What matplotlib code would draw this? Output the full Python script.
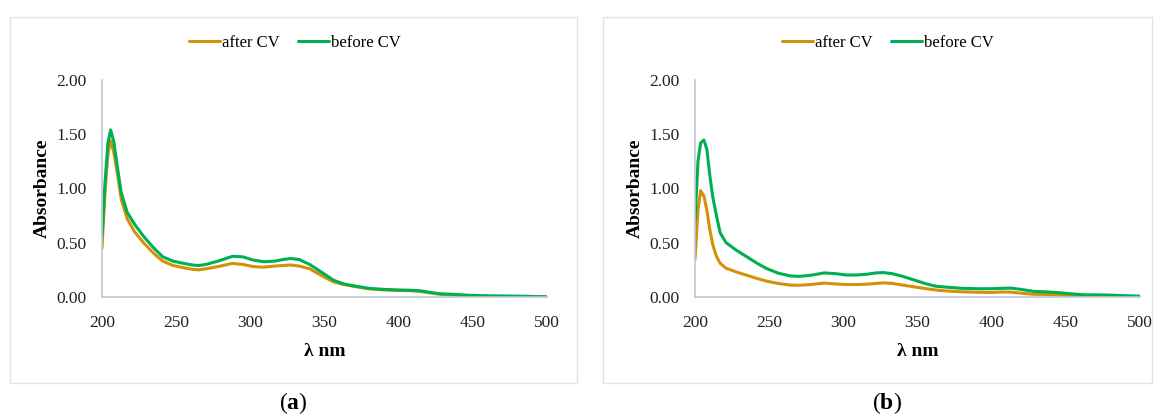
import matplotlib
matplotlib.use("Agg")
import matplotlib.pyplot as plt
from matplotlib.patches import Rectangle

plt.rcParams['font.family'] = ['Liberation Serif', 'DejaVu Serif']
plt.rcParams['mathtext.fontset'] = 'custom'
plt.rcParams['mathtext.rm'] = 'Liberation Serif'
plt.rcParams['mathtext.bf'] = 'Liberation Serif:bold'

# ---- data ----
wl_a = [200, 202, 204, 205.8, 208, 210, 213, 217, 222, 228, 235, 241, 248, 255, 261, 265,
        270, 278, 288, 295, 302, 309, 316, 322, 327, 333, 340, 349, 356, 363, 371, 380,
        390, 400, 408, 414, 420, 428, 436, 445, 455, 465, 475, 485, 492, 500]
after_a = [0.45, 0.95, 1.32, 1.44, 1.33, 1.17, 0.90, 0.72, 0.60, 0.50, 0.40, 0.33, 0.29, 0.27, 0.255, 0.25,
           0.26, 0.28, 0.31, 0.30, 0.28, 0.275, 0.285, 0.29, 0.295, 0.285, 0.26, 0.19, 0.14, 0.115, 0.095, 0.075,
           0.065, 0.06, 0.058, 0.052, 0.04, 0.025, 0.018, 0.012, 0.008, 0.005, 0.004, 0.003, 0.002, 0.001]
before_a = [0.55, 1.05, 1.42, 1.54, 1.43, 1.23, 0.96, 0.78, 0.67, 0.56, 0.45, 0.37, 0.33, 0.31, 0.295, 0.29,
            0.30, 0.33, 0.375, 0.37, 0.34, 0.325, 0.33, 0.345, 0.355, 0.345, 0.30, 0.22, 0.155, 0.12, 0.10, 0.08,
            0.07, 0.065, 0.062, 0.058, 0.045, 0.03, 0.025, 0.018, 0.012, 0.01, 0.009, 0.007, 0.004, 0.002]

wl_b = [200, 202, 203.8, 206, 208, 210, 212, 214.6, 217, 221, 228, 235, 242, 248, 256, 264,
        270, 278, 287, 295, 302, 309, 316, 322, 327, 333, 340, 347, 355, 362, 370, 380,
        392, 400, 407, 413, 420, 428, 436, 445, 453, 462, 472, 482, 490, 500]
after_b = [0.35, 0.80, 0.98, 0.93, 0.80, 0.62, 0.48, 0.37, 0.31, 0.265, 0.23, 0.20, 0.17, 0.147, 0.125, 0.11,
           0.108, 0.115, 0.128, 0.12, 0.115, 0.115, 0.118, 0.125, 0.13, 0.125, 0.11, 0.095, 0.078, 0.065, 0.055, 0.048,
           0.043, 0.042, 0.046, 0.045, 0.035, 0.025, 0.024, 0.018, 0.012, 0.008, 0.006, 0.004, 0.003, 0.002]
before_b = [0.70, 1.25, 1.42, 1.447, 1.36, 1.12, 0.92, 0.74, 0.59, 0.50, 0.43, 0.37, 0.31, 0.264, 0.22, 0.195,
            0.19, 0.20, 0.222, 0.215, 0.203, 0.203, 0.21, 0.222, 0.225, 0.215, 0.19, 0.16, 0.125, 0.10, 0.09, 0.08,
            0.076, 0.077, 0.08, 0.082, 0.07, 0.052, 0.048, 0.04, 0.03, 0.02, 0.02, 0.016, 0.012, 0.008]

xticks = [200, 250, 300, 350, 400, 450, 500]
yticks = [0.0, 0.5, 1.0, 1.5, 2.0]
series_labels = ["after CV", "before CV"]
panel_labels = ["a", "b"]

c_after = '#D39107'
c_before = '#00B050'
spine_c = '#BCC8D8'

W, H = 1155, 417
fig = plt.figure(figsize=(W / 100, H / 100), dpi=100)

def fx(px):
    return px / W

def fy(py):
    return 1 - py / H

panels = [
    dict(box=(10, 17, 577, 383), ax=(102, 80, 547, 297), leg=(295, 43), lab=(293, 403),
         x=wl_a, a=after_a, b=before_a),
    dict(box=(603, 17, 1152, 383), ax=(695, 80, 1140, 297), leg=(888, 43), lab=(887, 403),
         x=wl_b, a=after_b, b=before_b),
]

for i, p in enumerate(panels):
    x0, y0, x1, y1 = p['box']
    fig.patches.append(Rectangle((fx(x0), fy(y1)), fx(x1 - x0), (y1 - y0) / H,
                                 transform=fig.transFigure, fill=False,
                                 edgecolor='#DCE3EA', lw=1.0))
    l, t, r, b = p['ax']
    ax = fig.add_axes([fx(l), fy(b), fx(r - l), (b - t) / H])
    ax.plot(p['x'], p['a'], color=c_after, lw=2.2, label=series_labels[0], solid_capstyle='round')
    ax.plot(p['x'], p['b'], color=c_before, lw=2.2, label=series_labels[1], solid_capstyle='round')
    ax.set_xlim(200, 500)
    ax.set_ylim(0, 2.0)
    ax.set_xticks(xticks)
    ax.set_yticks(yticks)
    ax.set_yticklabels([f"{v:.2f}" for v in yticks])
    ax.tick_params(axis='both', length=0, labelsize=12.5, colors='#222222')
    ax.tick_params(axis='x', pad=13)
    ax.tick_params(axis='y', pad=11)
    for s in ['top', 'right']:
        ax.spines[s].set_visible(False)
    for s in ['left', 'bottom']:
        ax.spines[s].set_color(spine_c)
        ax.spines[s].set_linewidth(1.2)
    ax.set_facecolor('none')
    ax.set_xlabel('λ nm', fontsize=14, fontweight='bold')
    ax.set_ylabel('Absorbance', fontsize=14, fontweight='bold')
    ax.xaxis.set_label_coords(0.5, -(352 - b) / (b - t), transform=ax.transAxes)
    ax.yaxis.set_label_coords(-60 / (r - l), 0.5, transform=ax.transAxes)
    ax.xaxis.label.set_va('center')
    ax.yaxis.label.set_va('center')
    ax.legend(loc='center', bbox_to_anchor=(fx(p['leg'][0]), fy(p['leg'][1])),
              bbox_transform=fig.transFigure, ncol=2, frameon=False, fontsize=12,
              handlelength=1.85, handletextpad=0.15, columnspacing=1.1)
    fig.text(fx(p['lab'][0]), fy(p['lab'][1]), f"($\\mathbf{{{panel_labels[i]}}}$)",
             ha='center', va='center', fontsize=17)

fig.savefig('out.png', dpi=100, facecolor='white')
